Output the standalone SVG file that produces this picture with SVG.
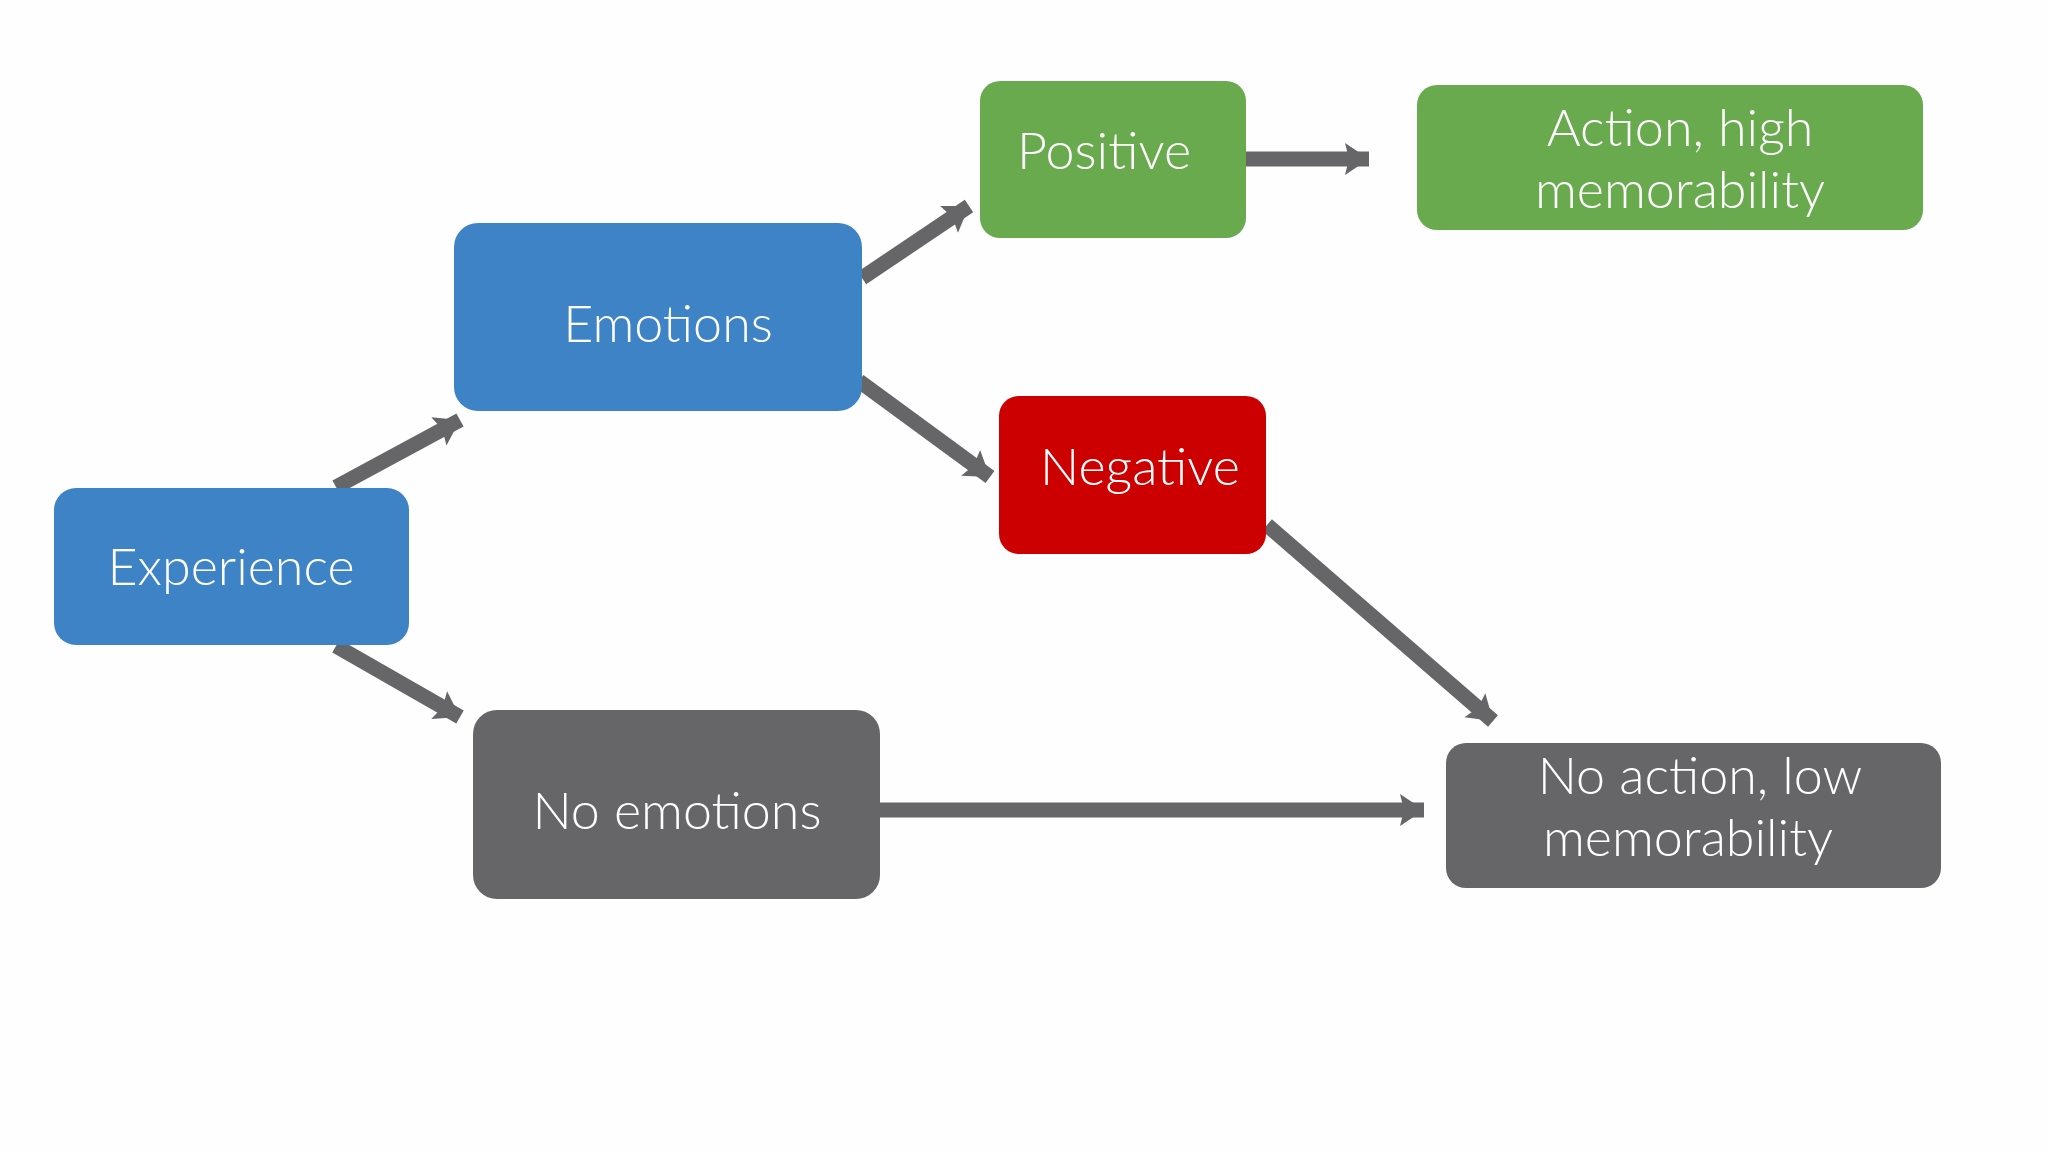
<svg xmlns="http://www.w3.org/2000/svg" width="2048" height="1152" viewBox="0 0 2048 1152">
<style>
.n text{font-family:Lato,"Open Sans",sans-serif;font-weight:300;font-size:52px;fill:#fff;text-anchor:middle}
.c line{stroke:#666567;stroke-width:15}
</style>
<defs>
<marker id="a" markerUnits="userSpaceOnUse" markerWidth="30" markerHeight="40" refX="24" refY="20" orient="auto">
<path d="M0,4 L24,20 L0,36 L4,20 Z" fill="#666567"/>
</marker>
</defs>
<rect width="2048" height="1152" fill="#fefefe"/>
<g class="c">
<line x1="336" y1="487" x2="460" y2="420" marker-end="url(#a)"/>
<line x1="336" y1="646" x2="460" y2="717" marker-end="url(#a)"/>
<line x1="862" y1="278" x2="969" y2="206" marker-end="url(#a)"/>
<line x1="859" y1="381" x2="990" y2="477" marker-end="url(#a)"/>
<line x1="1246" y1="159" x2="1369" y2="159" marker-end="url(#a)"/>
<line x1="1267" y1="525" x2="1493" y2="721" marker-end="url(#a)"/>
<line x1="880" y1="810" x2="1424" y2="810" marker-end="url(#a)"/>
</g>
<g id="experience" class="n"><rect x="54" y="488" width="355" height="157" rx="22" fill="#3e83c5"/><text x="231" y="585">Experience</text></g>
<g id="emotions" class="n"><rect x="454" y="223" width="408" height="188" rx="24" fill="#3e83c5"/><text x="668" y="342">Emotions</text></g>
<g id="positive" class="n"><rect x="980" y="81" width="266" height="157" rx="20" fill="#6aaa4f"/><text x="1104" y="169">Positive</text></g>
<g id="action" class="n"><rect x="1417" y="85" width="506" height="145" rx="20" fill="#6aaa4f"/><text x="1680" y="146">Action, high</text><text x="1680" y="208">memorability</text></g>
<g id="negative" class="n"><rect x="999" y="396" width="267" height="158" rx="20" fill="#cc0000"/><text x="1140" y="485">Negative</text></g>
<g id="noemotions" class="n"><rect x="473" y="710" width="407" height="189" rx="24" fill="#666567"/><text x="677" y="829">No emotions</text></g>
<g id="noaction" class="n"><rect x="1446" y="743" width="495" height="145" rx="20" fill="#666567"/><text x="1700" y="794">No action, low</text><text x="1688" y="856">memorability</text></g>
</svg>
